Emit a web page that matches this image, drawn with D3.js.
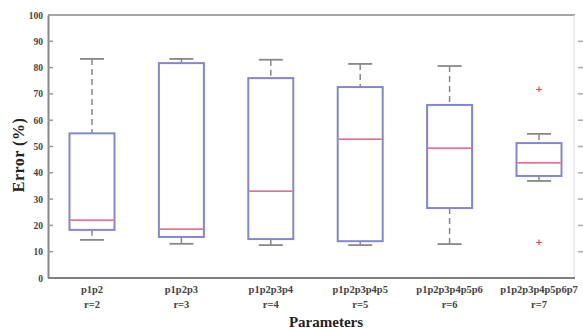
<!DOCTYPE html>
<html><head><meta charset="utf-8">
<script src="https://cdn.jsdelivr.net/npm/d3@7"></script>
<style>body{margin:0;background:#fff}svg{display:block}text{font-family:"Liberation Serif","Times New Roman",serif}</style>
</head><body>
<svg id="c" width="583" height="331"></svg>
<script>
const categories = ["p1p2","p1p2p3","p1p2p3p4","p1p2p3p4p5","p1p2p3p4p5p6","p1p2p3p4p5p6p7"];
const rLabels = ["r=2","r=3","r=4","r=5","r=6","r=7"];
const whiskerLow = [14.5,13,12.5,12.5,12.9,36.9];
const q1 = [18.3,15.6,14.8,14,26.6,38.8];
const median = [22,18.6,33,52.8,49.4,43.8];
const q3 = [55,81.7,76,72.6,65.8,51.3];
const whiskerHigh = [83.3,83.3,83,81.4,80.6,54.8];
const outliers = [[],[],[],[],[],[71.9,13.7]];
const yTicks = [0,10,20,30,40,50,60,70,80,90,100];

const svg = d3.select("#c");
const L=48, R=575, T=15, B=278;
const x = d3.scaleLinear().domain([0.5,6.5]).range([47.3,583.7]);
const y = d3.scaleLinear().domain([0,100]).range([B,T]);
const bw = 45, cw = 24;

// frame
svg.append("line").attr("x1",L).attr("x2",R).attr("y1",T).attr("y2",T).attr("stroke","#888").attr("stroke-width",1.5);
svg.append("line").attr("x1",R-1).attr("x2",R-1).attr("y1",T).attr("y2",B).attr("stroke","#ddd").attr("stroke-width",1);
svg.append("line").attr("x1",L).attr("x2",R).attr("y1",B).attr("y2",B).attr("stroke","#555").attr("stroke-width",1.5);

// left axis
const ya = d3.axisLeft(y).tickValues(yTicks).tickSize(0).tickPadding(5);
const g = svg.append("g").attr("transform",`translate(${L},0)`).call(ya);
g.select(".domain").attr("stroke","#888").attr("stroke-width",2);
g.selectAll("text").attr("font-size",9.5).attr("font-weight","bold").attr("fill","#444");
svg.selectAll(".lt").data(yTicks.filter(d=>d>0&&d<100)).enter().append("line")
  .attr("x1",L).attr("x2",L+5).attr("y1",d=>y(d)).attr("y2",d=>y(d)).attr("stroke","#999").attr("stroke-width",1.5);
svg.selectAll(".rt").data(yTicks.filter(d=>d>0&&d<100)).enter().append("line")
  .attr("x1",R+3).attr("x2",583).attr("y1",d=>y(d)).attr("y2",d=>y(d)).attr("stroke","#aaa").attr("stroke-width",1.5);

// boxes
categories.forEach((c,i)=>{
  const cx = x(i+1);
  const gg = svg.append("g");
  gg.append("line").attr("x1",cx).attr("x2",cx).attr("y1",y(whiskerHigh[i])).attr("y2",y(q3[i]))
    .attr("stroke","#888").attr("stroke-width",1.5).attr("stroke-dasharray","6,4");
  gg.append("line").attr("x1",cx).attr("x2",cx).attr("y1",y(q1[i])).attr("y2",y(whiskerLow[i]))
    .attr("stroke","#888").attr("stroke-width",1.5).attr("stroke-dasharray","6,4");
  gg.append("line").attr("x1",cx-cw/2).attr("x2",cx+cw/2).attr("y1",y(whiskerHigh[i])).attr("y2",y(whiskerHigh[i]))
    .attr("stroke","#888").attr("stroke-width",1.8);
  gg.append("line").attr("x1",cx-cw/2).attr("x2",cx+cw/2).attr("y1",y(whiskerLow[i])).attr("y2",y(whiskerLow[i]))
    .attr("stroke","#888").attr("stroke-width",1.8);
  gg.append("rect").attr("x",cx-bw/2).attr("width",bw).attr("y",y(q3[i])).attr("height",y(q1[i])-y(q3[i]))
    .attr("fill","#fff").attr("stroke","#8585d6").attr("stroke-width",2);
  gg.append("line").attr("x1",cx-bw/2+1).attr("x2",cx+bw/2-1).attr("y1",y(median[i])).attr("y2",y(median[i]))
    .attr("stroke","#e0406a").attr("stroke-width",1.3);
  outliers[i].forEach(v=>{
    gg.append("text").attr("x",cx).attr("y",y(v)).attr("dy","0.35em").attr("text-anchor","middle")
      .attr("font-size",9).attr("font-weight","bold").attr("fill","#e0406a").style("font-family","DejaVu Sans").text("+");
  });
  svg.append("text").attr("x",cx).attr("y",293).attr("text-anchor","middle").attr("font-size",10.5)
    .attr("font-weight","bold").attr("fill","#444").text(c);
  svg.append("text").attr("x",cx).attr("y",308).attr("text-anchor","middle").attr("font-size",10.5)
    .attr("font-weight","bold").attr("fill","#444").text(rLabels[i]);
});

svg.append("text").attr("x",326).attr("y",327).attr("text-anchor","middle").attr("font-size",15)
  .attr("font-weight","bold").attr("fill","#222").text("Parameters");
svg.append("text").attr("transform","translate(24,155) rotate(-90)").attr("text-anchor","middle").attr("font-size",16)
  .attr("font-weight","bold").attr("fill","#222").attr("letter-spacing","0.5").text("Error (%)");
</script>
</body></html>
